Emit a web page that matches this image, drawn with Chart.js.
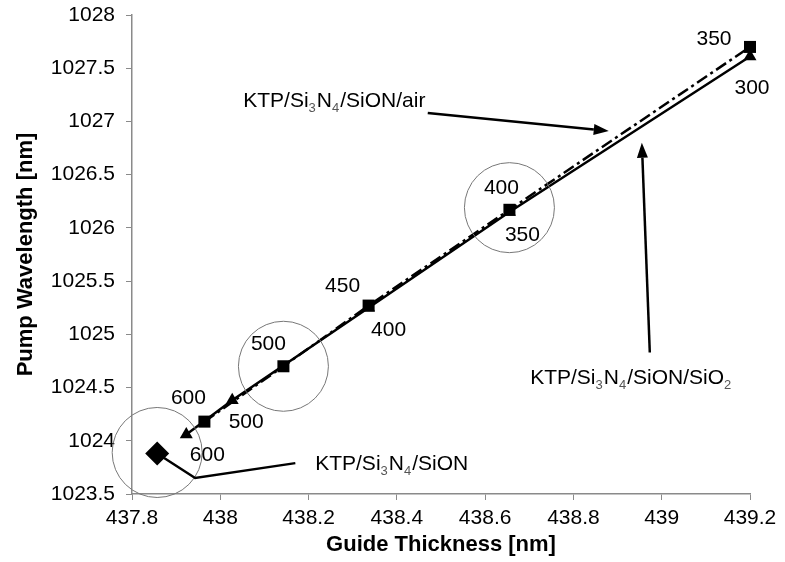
<!DOCTYPE html>
<html>
<head>
<meta charset="utf-8">
<script src="https://cdn.jsdelivr.net/npm/chart.js@4.4.1/dist/chart.umd.min.js"></script>
<style>
  html, body { margin: 0; padding: 0; background: #fff; }
</style>
</head>
<body>
<canvas id="chart" width="785" height="562"></canvas>
<script>
// Guide thickness vs pump wavelength, three structures
const xTicks = [437.8, 438, 438.2, 438.4, 438.6, 438.8, 439, 439.2];
const yTicks = [1023.5, 1024, 1024.5, 1025, 1025.5, 1026, 1026.5, 1027, 1027.5, 1028];

// KTP/Si3N4/SiON/air (squares, dash-dot)
const airThickness = [437.964, 438.143, 438.336, 438.655, 439.2];
const airWavelength = [1024.18, 1024.70, 1025.27, 1026.17, 1027.70];
const airLabels = ['600', '500', '450', '400', '350'];

// KTP/Si3N4/SiON/SiO2 (triangles, solid)
const sio2Thickness = [437.923, 438.027, 438.336, 438.655, 439.2];
const sio2Wavelength = [1024.06, 1024.38, 1025.25, 1026.15, 1027.61];
const sio2Labels = ['600', '500', '400', '350', '300'];

// KTP/Si3N4/SiON (single diamond)
const sionThickness = [437.857];
const sionWavelength = [1023.88];

// highlight circles
const circleThickness = [437.857, 438.143, 438.655];
const circleWavelength = [1023.89, 1024.70, 1026.19];

const FONT = '"Liberation Sans", Arial, sans-serif';

function toPoints(xs, ys) {
    return xs.map((x, i) => ({ x: x, y: ys[i] }));
}

// label offsets in px from each marker
const airLabelOffsets = [[-16, -23], [-15, -22], [-26, -19], [-8, -22], [-36, -8]];
const sio2LabelOffsets = [[21, 21], [14, 22], [20, 22], [13, 23], [2, 32]];

function drawArrow(ctx, x1, y1, x2, y2) {
    const ang = Math.atan2(y2 - y1, x2 - x1);
    const len = 15, half = 5.5;
    const bx = x2 - len * Math.cos(ang), by = y2 - len * Math.sin(ang);
    ctx.beginPath();
    ctx.moveTo(x1, y1);
    ctx.lineTo(bx, by);
    ctx.stroke();
    ctx.beginPath();
    ctx.moveTo(x2, y2);
    ctx.lineTo(bx + half * Math.sin(ang), by - half * Math.cos(ang));
    ctx.lineTo(bx - half * Math.sin(ang), by + half * Math.cos(ang));
    ctx.closePath();
    ctx.fill();
}

function drawRich(ctx, parts, x, y) {
    let cx = x;
    ctx.textAlign = 'left';
    ctx.textBaseline = 'alphabetic';
    parts.forEach(p => {
        const sub = p[1];
        ctx.font = (sub ? '13px ' : '21px ') + FONT;
        ctx.fillStyle = sub ? '#555' : '#000';
        ctx.fillText(p[0], cx, y + (sub ? 5 : 0));
        cx += ctx.measureText(p[0]).width + (sub ? 1 : 0);
    });
}

const annotate = {
    id: 'annotate',
    afterDatasetsDraw(chart) {
        const ctx = chart.ctx;
        const px = v => chart.scales.x.getPixelForValue(v);
        const py = v => chart.scales.y.getPixelForValue(v);
        ctx.save();

        // point labels
        ctx.font = '21px ' + FONT;
        ctx.fillStyle = '#000';
        ctx.textAlign = 'center';
        ctx.textBaseline = 'middle';
        chart.getDatasetMeta(1).data.forEach((el, i) => {
            ctx.fillText(airLabels[i], el.x + airLabelOffsets[i][0], el.y + airLabelOffsets[i][1]);
        });
        chart.getDatasetMeta(2).data.forEach((el, i) => {
            ctx.fillText(sio2Labels[i], el.x + sio2LabelOffsets[i][0], el.y + sio2LabelOffsets[i][1]);
        });

        // callouts
        ctx.strokeStyle = '#000';
        ctx.fillStyle = '#000';
        ctx.lineWidth = 2.5;
        drawArrow(ctx, px(438.47), py(1027.08), px(438.88), py(1026.91));
        drawArrow(ctx, px(438.973), py(1024.83), px(438.955), py(1026.80));

        ctx.beginPath();
        ctx.moveTo(px(sionThickness[0]), py(sionWavelength[0]));
        ctx.lineTo(px(437.943), py(1023.65));
        ctx.lineTo(px(438.17), py(1023.79));
        ctx.stroke();

        drawRich(ctx, [['KTP/Si'], ['3', 1], ['N'], ['4', 1], ['/SiON/air']], px(438.052), py(1027.20) + 7);
        drawRich(ctx, [['KTP/Si'], ['3', 1], ['N'], ['4', 1], ['/SiON/SiO'], ['2', 1]], px(438.702), py(1024.60) + 7);
        drawRich(ctx, [['KTP/Si'], ['3', 1], ['N'], ['4', 1], ['/SiON']], px(438.215), py(1023.79) + 7);

        ctx.restore();
    }
};

const axisColor = '#8a8a8a';

new Chart(document.getElementById('chart'), {
    type: 'scatter',
    data: {
        datasets: [
            {
                label: 'circles',
                data: toPoints(circleThickness, circleWavelength),
                showLine: false,
                pointStyle: 'circle',
                pointRadius: 45,
                pointBackgroundColor: 'rgba(0,0,0,0)',
                pointBorderColor: '#777',
                pointBorderWidth: 1,
                clip: false
            },
            {
                label: 'KTP/Si3N4/SiON/air',
                data: toPoints(airThickness, airWavelength),
                showLine: true,
                borderColor: '#000',
                borderWidth: 2.5,
                borderDash: [12, 4, 3, 4],
                pointStyle: 'rect',
                pointRadius: 8.5,
                pointBackgroundColor: '#000',
                pointBorderWidth: 0,
                clip: false
            },
            {
                label: 'KTP/Si3N4/SiON/SiO2',
                data: toPoints(sio2Thickness, sio2Wavelength),
                showLine: true,
                borderColor: '#000',
                borderWidth: 2.5,
                pointStyle: 'triangle',
                pointRadius: 7.5,
                pointBackgroundColor: '#000',
                pointBorderWidth: 0,
                clip: false
            },
            {
                label: 'KTP/Si3N4/SiON',
                data: toPoints(sionThickness, sionWavelength),
                showLine: false,
                pointStyle: 'rectRot',
                pointRadius: 12,
                pointBackgroundColor: '#000',
                pointBorderWidth: 0,
                clip: false
            }
        ]
    },
    options: {
        responsive: false,
        animation: false,
        layout: { autoPadding: false, padding: { top: 15, right: 35, left: 0, bottom: 0 } },
        plugins: {
            legend: { display: false },
            tooltip: { enabled: false }
        },
        scales: {
            x: {
                type: 'linear',
                min: 437.8,
                max: 439.2,
                afterBuildTicks: s => { s.ticks = xTicks.map(v => ({ value: v })); },
                afterFit: s => { s.height = 68; s.paddingLeft = 0; s.paddingRight = 0; },
                border: { color: axisColor, width: 1.5 },
                grid: { drawOnChartArea: false, color: axisColor, tickLength: 6 },
                ticks: {
                    color: '#000',
                    font: { family: FONT, size: 21 },
                    padding: 6,
                    maxRotation: 0,
                    callback: v => String(Number(v.toFixed(1)))
                },
                title: {
                    display: true,
                    text: 'Guide Thickness [nm]',
                    color: '#000',
                    font: { family: FONT, size: 22, weight: 'bold' },
                    padding: { top: 0 }
                }
            },
            y: {
                type: 'linear',
                min: 1023.5,
                max: 1028,
                afterBuildTicks: s => { s.ticks = yTicks.map(v => ({ value: v })); },
                afterFit: s => { s.width = 132; s.paddingTop = 0; s.paddingBottom = 0; },
                border: { color: axisColor, width: 1.5 },
                grid: { drawOnChartArea: false, color: axisColor, tickLength: 6 },
                ticks: {
                    color: '#000',
                    font: { family: FONT, size: 21 },
                    padding: 11,
                    callback: v => String(Number(v.toFixed(1)))
                },
                title: {
                    display: true,
                    text: 'Pump Wavelength [nm]',
                    color: '#000',
                    font: { family: FONT, size: 22, weight: 'bold' },
                    padding: { top: 13, bottom: 0 }
                }
            }
        }
    },
    plugins: [annotate]
});
</script>
</body>
</html>
